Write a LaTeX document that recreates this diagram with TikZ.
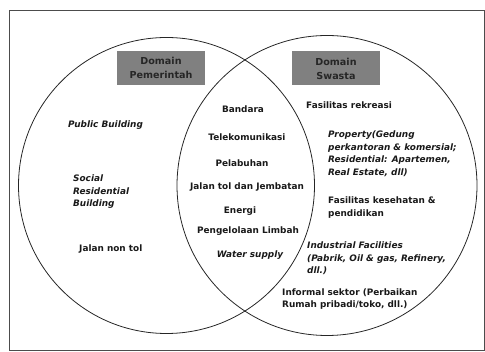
\documentclass[tikz,border=0pt]{standalone}
\usepackage{fontspec}
\setmainfont{DejaVu Sans}
\begin{document}
\begin{tikzpicture}[x=1pt,y=-1pt,
  every node/.style={inner sep=0pt,text=black!90,font=\fontsize{8.9}{12.5}\selectfont\bfseries},
  lbl/.style={anchor=west,align=left},
  clbl/.style={anchor=center,align=center},
  it/.style={font=\fontsize{8.9}{12.5}\selectfont\bfseries\itshape},
  domainbox/.style={fill=black!50,minimum width=88pt,minimum height=34pt,align=center,text=black!85,
                 font=\fontsize{9.6}{14}\selectfont\bfseries},
  ring/.style={draw=black!85,line width=0.8pt}]
\useasboundingbox (0,0) rectangle (485,352);
% outer frame
\draw[black!70,line width=0.7pt] (9,10) rectangle (484,350);
% the two domains
\draw[ring] (166.5,185.5) circle [radius=148pt];
\draw[ring] (327,185.5) circle [radius=150pt];
% headers
\node[domainbox] (pem) at (161,68) {Domain\\Pemerintah};
\node[domainbox] (swa) at (336,68.5) {Domain\\Swasta};
% government only
\node[lbl,it] (pub) at (68,125) {Public Building};
\node[lbl,it] (soc) at (73,192) {Social\\Residential\\Building};
\node[lbl] (jnt) at (79,249) {Jalan non tol};
% shared
\node[clbl] (ban) at (243,109) {Bandara};
\node[clbl] (tel) at (247,137) {Telekomunikasi};
\node[clbl] (pel) at (242,163) {Pelabuhan};
\node[clbl] (jtj) at (247,187) {Jalan tol dan Jembatan};
\node[clbl] (ene) at (240,211) {Energi};
\node[clbl] (lim) at (248,231) {Pengelolaan Limbah};
\node[clbl,it] (wat) at (250,255) {Water supply};
% private only
\node[lbl] (rek) at (306,105) {Fasilitas rekreasi};
\node[lbl,it] (pro) at (328,154) {Property(Gedung\\perkantoran \& komersial;\\Residential: Apartemen,\\Real Estate, dll)};
\node[lbl] (kes) at (328,207.5) {Fasilitas kesehatan \&\\pendidikan};
\node[lbl,it] (ind) at (307,258.5) {Industrial Facilities\\(Pabrik, Oil \& gas, Refinery,\\dll.)};
\node[lbl] (inf) at (282,299) {Informal sektor (Perbaikan\\Rumah pribadi/toko, dll.)};
\end{tikzpicture}
\end{document}
